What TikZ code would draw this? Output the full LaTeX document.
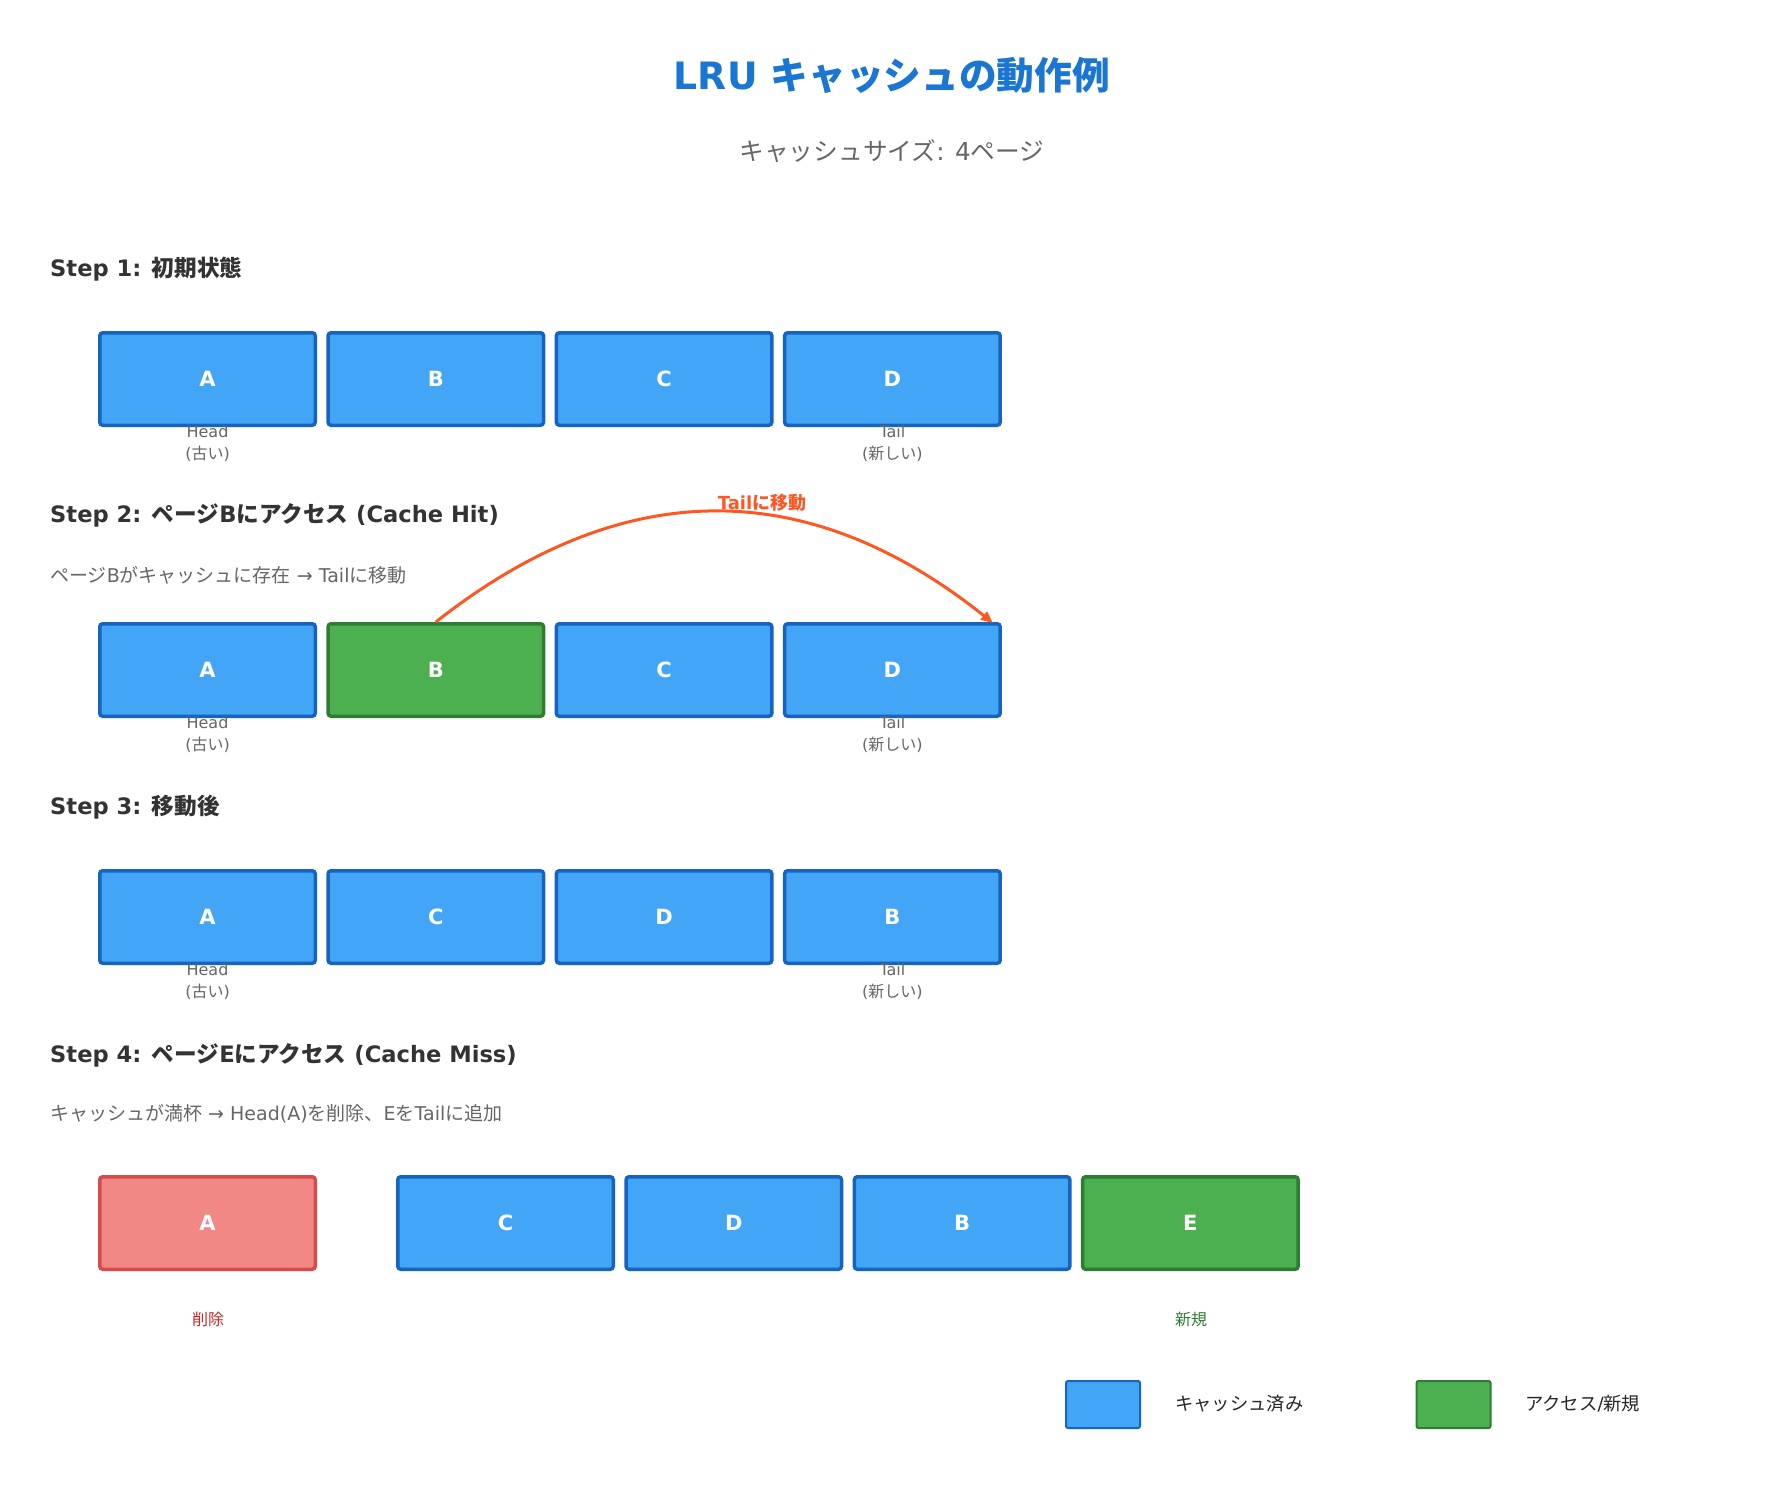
\documentclass[tikz,border=0pt]{standalone}
\usepackage{fontspec}
\setmainfont{DejaVu Sans}
\newfontfamily\cjkfont{Noto Sans CJK JP}
\XeTeXinterchartokenstate=1
\newXeTeXintercharclass\cjkclass
\makeatletter
\def\setcjkrange#1#2{\count@=#1\relax
  \loop\XeTeXcharclass\count@=\cjkclass\relax
  \ifnum\count@<#2\advance\count@ by 1\repeat}
\makeatother
\setcjkrange{"3000}{"30FF}
\setcjkrange{"4E00}{"9FFF}
\setcjkrange{"FF00}{"FFEF}
\XeTeXinterchartoks 0 \cjkclass = {\cjkfont}
\XeTeXinterchartoks 4095 \cjkclass = {\cjkfont}
\XeTeXinterchartoks \cjkclass 0 = {\rmfamily}
\XeTeXinterchartoks \cjkclass 4095 = {\rmfamily}
\usetikzlibrary{arrows.meta}
\definecolor{cblue}{HTML}{42A5F5}
\definecolor{cbluedk}{HTML}{1565C0}
\definecolor{cgreen}{HTML}{4CAF50}
\definecolor{cgreendk}{HTML}{2E7D32}
\definecolor{cred}{HTML}{F28885}
\definecolor{creddk}{HTML}{D94A4A}
\definecolor{ctitle}{HTML}{1976D2}
\definecolor{cgray}{HTML}{666666}
\definecolor{cdark}{HTML}{333333}
\definecolor{corange}{HTML}{FF5722}
\definecolor{cdelred}{HTML}{C62828}
\begin{document}
\begin{tikzpicture}[x=1pt,y=-1pt,
  cell/.style={draw, line width=3.5pt, rounded corners=3pt, minimum width=215.5pt,
    minimum height=92.5pt, inner sep=0pt, text=white,
    font=\fontsize{21}{24}\selectfont\bfseries},
  bluecell/.style={cell, fill=cblue, draw=cbluedk},
  greencell/.style={cell, fill=cgreen, draw=cgreendk},
  redcell/.style={cell, fill=cred, draw=creddk},
  heading/.style={anchor=west, inner sep=0pt, text=cdark,
    font=\fontsize{22.6}{26}\selectfont\bfseries},
  desc/.style={anchor=west, inner sep=0pt, text=cgray,
    font=\fontsize{19}{22}\selectfont},
  endlabel/.style={inner sep=0pt, text=cgray, font=\fontsize{16}{19}\selectfont},
  legbox/.style={draw, line width=2pt, rounded corners=2pt, minimum width=74pt,
    minimum height=47pt, inner sep=0pt},
  legtext/.style={anchor=west, inner sep=0pt, text=black!85,
    font=\fontsize{18.3}{21}\selectfont},
  movearrow/.style={draw=corange, line width=3pt, -{Triangle[length=12pt,width=10pt]}}
]
\useasboundingbox[fill=white] (0,0) rectangle (1785,1485);

% title
\node[inner sep=0pt, text=ctitle, font=\fontsize{37.7}{44}\selectfont\bfseries] (title) at (892,75) {LRU キャッシュの動作例};
\node[inner sep=0pt, text=cgray, font=\fontsize{24.7}{28}\selectfont] (subtitle) at (892,151) {キャッシュサイズ: 4ページ};

% Step 1
\node[heading] (h1) at (50,269) {Step 1: 初期状態};
\node[bluecell] (a1) at (207.5,379) {A};
\node[bluecell] (b1) at (435.8,379) {B};
\node[bluecell] (c1) at (664.1,379) {C};
\node[bluecell] (d1) at (892.4,379) {D};
\node[endlabel] (hd1) at (207.5,432) {Head};
\node[endlabel] (ho1) at (207.5,454) {(古い)};
\node[endlabel] (tl1) at (892.4,432) {Tail};
\node[endlabel] (tn1) at (892.4,454) {(新しい)};

% Step 2
\node[heading] (h2) at (50,515) {Step 2: ページBにアクセス (Cache Hit)};
\node[desc] (s2) at (50,575) {ページBがキャッシュに存在 → Tailに移動};
\node[bluecell] (a2) at (207.5,670) {A};
\node[greencell] (b2) at (435.8,670) {B};
\node[bluecell] (c2) at (664.1,670) {C};
\node[bluecell] (d2) at (892.4,670) {D};
\node[endlabel] (hd2) at (207.5,723) {Head};
\node[endlabel] (ho2) at (207.5,745) {(古い)};
\node[endlabel] (tl2) at (892.4,723) {Tail};
\node[endlabel] (tn2) at (892.4,745) {(新しい)};
\coordinate (arrEnd) at (993,623);
\draw[movearrow] (b2.north) .. controls (622.7,474.7) and (808,475) .. (arrEnd);
\node[inner sep=0pt, text=corange, font=\fontsize{18}{21}\selectfont\bfseries] (mv) at (762,503) {Tailに移動};

% Step 3
\node[heading] (h3) at (50,807) {Step 3: 移動後};
\node[bluecell] (a3) at (207.5,917) {A};
\node[bluecell] (c3) at (435.8,917) {C};
\node[bluecell] (d3) at (664.1,917) {D};
\node[bluecell] (b3) at (892.4,917) {B};
\node[endlabel] (hd3) at (207.5,970) {Head};
\node[endlabel] (ho3) at (207.5,992) {(古い)};
\node[endlabel] (tl3) at (892.4,970) {Tail};
\node[endlabel] (tn3) at (892.4,992) {(新しい)};

% Step 4
\node[heading] (h4) at (50,1055) {Step 4: ページEにアクセス (Cache Miss)};
\node[desc] (s4) at (50,1114) {キャッシュが満杯 → Head(A)を削除、EをTailに追加};
\node[redcell] (a4) at (207.5,1223) {A};
\node[bluecell] (c4) at (505.5,1223) {C};
\node[bluecell] (d4) at (733.8,1223) {D};
\node[bluecell] (b4) at (962.1,1223) {B};
\node[greencell] (e4) at (1190.4,1223) {E};
\node[inner sep=0pt, text=cdelred, font=\fontsize{16}{19}\selectfont] (del) at (208,1319) {削除};
\node[inner sep=0pt, text=cgreendk, font=\fontsize{16}{19}\selectfont] (new) at (1191,1319) {新規};

% legend
\node[legbox, fill=cblue, draw=cbluedk] (lg1) at (1103,1404.5) {};
\node[legtext] (lt1) at (1175,1404) {キャッシュ済み};
\node[legbox, fill=cgreen, draw=cgreendk] (lg2) at (1453.5,1404.5) {};
\node[legtext] (lt2) at (1525,1404) {アクセス/新規};
\end{tikzpicture}
\end{document}
